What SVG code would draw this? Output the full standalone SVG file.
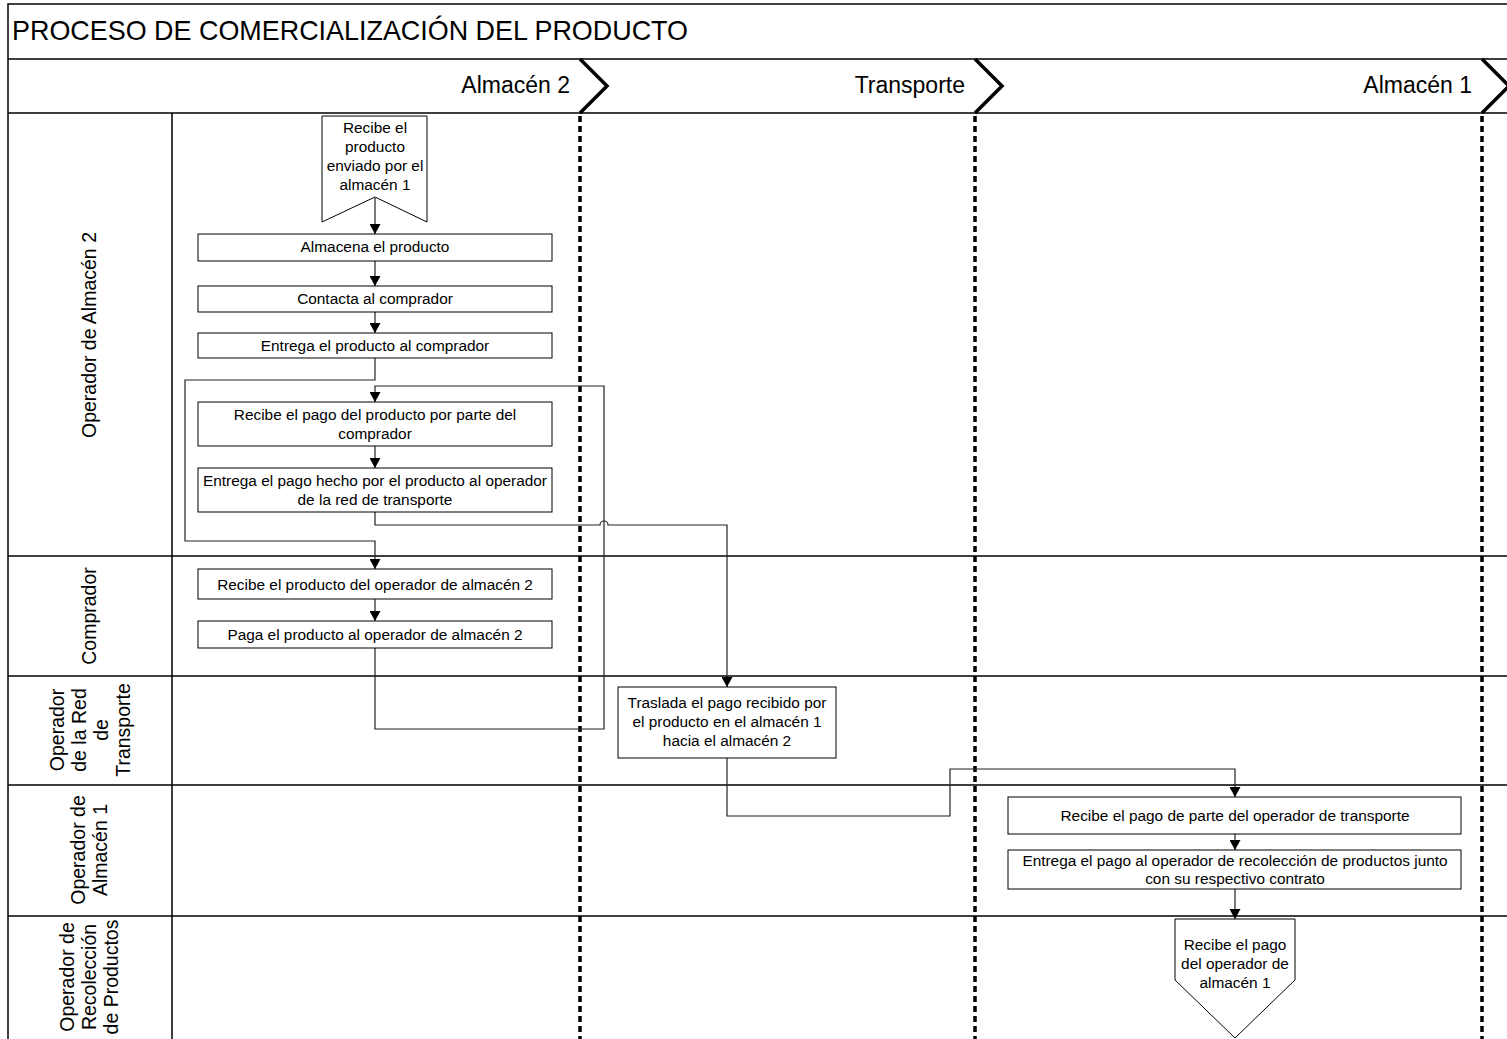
<svg xmlns="http://www.w3.org/2000/svg" width="1507" height="1039" viewBox="0 0 1507 1039">
<style>
text{font-family:"Liberation Sans",Arial,sans-serif;fill:#000}
.t{font-size:15.4px;text-anchor:middle}
.lane{font-size:19.5px;text-anchor:middle}
.hdr{font-size:23px;text-anchor:end}
.box{fill:#fff;stroke:#000;stroke-width:1}
.grid{stroke:#000;stroke-width:1.5;fill:none}
.div{stroke:#000;stroke-width:3.5;stroke-dasharray:6,4;fill:none}
.chev{stroke:#000;stroke-width:3.5;fill:none}
.con{stroke:#222;stroke-width:1.2;fill:none}
</style>
<defs>
<marker id="arr" markerUnits="userSpaceOnUse" markerWidth="11" markerHeight="11" refX="10" refY="5.5" orient="auto"><path d="M0,0 L10,5.5 L0,11 z" fill="#000"/></marker>
</defs>
<rect width="1507" height="1039" fill="#fff"/>
<g id="frame">
<path class="grid" d="M8,1045 V4 H1510 M8,59 H1510 M8,113 H1510 M172,113 V1045 M8,556 H1510 M8,676 H1510 M8,785 H1510 M8,916 H1510"/>
<text x="12" y="40" style="font-size:28px" textLength="676" lengthAdjust="spacingAndGlyphs">PROCESO DE COMERCIALIZACIÓN DEL PRODUCTO</text>
</g>
<g id="phases">
<path class="chev" d="M580,59 L607,86 L580,113 M975,59 L1002,86 L975,113 M1482,59 L1509,86 L1482,113"/>
<path class="div" d="M580,116 V1045 M975,116 V1045 M1482,116 V1045"/>
<text class="hdr" x="570" y="93">Almacén 2</text>
<text class="hdr" x="965" y="93">Transporte</text>
<text class="hdr" x="1472" y="93">Almacén 1</text>
</g>
<g id="lanes">
<text class="lane" transform="translate(96,335) rotate(-90)">Operador de Almacén 2</text>
<text class="lane" transform="translate(96,616) rotate(-90)">Comprador</text>
<g transform="translate(0,730)">
<text class="lane" transform="translate(64,0) rotate(-90)">Operador</text>
<text class="lane" transform="translate(86,0) rotate(-90)">de la Red</text>
<text class="lane" transform="translate(108,0) rotate(-90)">de</text>
<text class="lane" transform="translate(130,0) rotate(-90)">Transporte</text>
</g>
<g transform="translate(0,850)">
<text class="lane" transform="translate(85,0) rotate(-90)">Operador de</text>
<text class="lane" transform="translate(107,0) rotate(-90)">Almacén 1</text>
</g>
<g transform="translate(0,977)">
<text class="lane" transform="translate(74,0) rotate(-90)">Operador de</text>
<text class="lane" transform="translate(96,0) rotate(-90)">Recolección</text>
<text class="lane" transform="translate(118,0) rotate(-90)">de Productos</text>
</g>
</g>
<g id="connectors">
<path class="con" marker-end="url(#arr)" d="M375,198 V234"/>
<path class="con" marker-end="url(#arr)" d="M375,261 V286"/>
<path class="con" marker-end="url(#arr)" d="M375,312 V333"/>
<path class="con" marker-end="url(#arr)" d="M375,358 V380 H185 V541 H375 V569"/>
<path class="con" marker-end="url(#arr)" d="M375,599 V621"/>
<path class="con" marker-end="url(#arr)" d="M375,648 V729 H604 V386 H375 V402"/>
<path class="con" marker-end="url(#arr)" d="M375,446 V468"/>
<path class="con" marker-end="url(#arr)" d="M375,512 V525 H600 A4,4 0 0 1 608,525 H727 V687"/>
<path class="con" marker-end="url(#arr)" d="M727,758 V816 H950 V769 H1235 V797"/>
<path class="con" marker-end="url(#arr)" d="M1235,834 V850"/>
<path class="con" marker-end="url(#arr)" d="M1235,889 V919"/>
</g>
<g id="n1">
<polygon class="box" points="322,116 427,116 427,222 375,197 322,222"/>
<text class="t" x="375" y="133">Recibe el</text>
<text class="t" x="375" y="152">producto</text>
<text class="t" x="375" y="171">enviado por el</text>
<text class="t" x="375" y="190">almacén 1</text>
</g>
<g id="n2"><rect class="box" x="198" y="234" width="354" height="27"/><text class="t" x="375" y="252">Almacena el producto</text></g>
<g id="n3"><rect class="box" x="198" y="286" width="354" height="26"/><text class="t" x="375" y="304">Contacta al comprador</text></g>
<g id="n4"><rect class="box" x="198" y="333" width="354" height="25"/><text class="t" x="375" y="351">Entrega el producto al comprador</text></g>
<g id="n5"><rect class="box" x="198" y="402" width="354" height="44"/><text class="t" x="375" y="420">Recibe el pago del producto por parte del</text><text class="t" x="375" y="439">comprador</text></g>
<g id="n6"><rect class="box" x="198" y="468" width="354" height="44"/><text class="t" x="375" y="486">Entrega el pago hecho por el producto al operador</text><text class="t" x="375" y="505">de la red de transporte</text></g>
<g id="n7"><rect class="box" x="198" y="569" width="354" height="30"/><text class="t" x="375" y="590">Recibe el producto del operador de almacén 2</text></g>
<g id="n8"><rect class="box" x="198" y="621" width="354" height="27"/><text class="t" x="375" y="640">Paga el producto al operador de almacén 2</text></g>
<g id="n9"><rect class="box" x="618" y="687" width="218" height="71"/><text class="t" x="727" y="708">Traslada el pago recibido por</text><text class="t" x="727" y="727">el producto en el almacén 1</text><text class="t" x="727" y="746">hacia el almacén 2</text></g>
<g id="n10"><rect class="box" x="1008" y="797" width="453" height="37"/><text class="t" x="1235" y="821">Recibe el pago de parte del operador de transporte</text></g>
<g id="n11"><rect class="box" x="1008" y="850" width="453" height="39"/><text class="t" x="1235" y="866">Entrega el pago al operador de recolección de productos junto</text><text class="t" x="1235" y="884">con su respectivo contrato</text></g>
<g id="n12">
<polygon class="box" points="1175,919 1295,919 1295,980 1235,1038 1175,980"/>
<text class="t" x="1235" y="950">Recibe el pago</text>
<text class="t" x="1235" y="969">del operador de</text>
<text class="t" x="1235" y="988">almacén 1</text>
</g>
</svg>
